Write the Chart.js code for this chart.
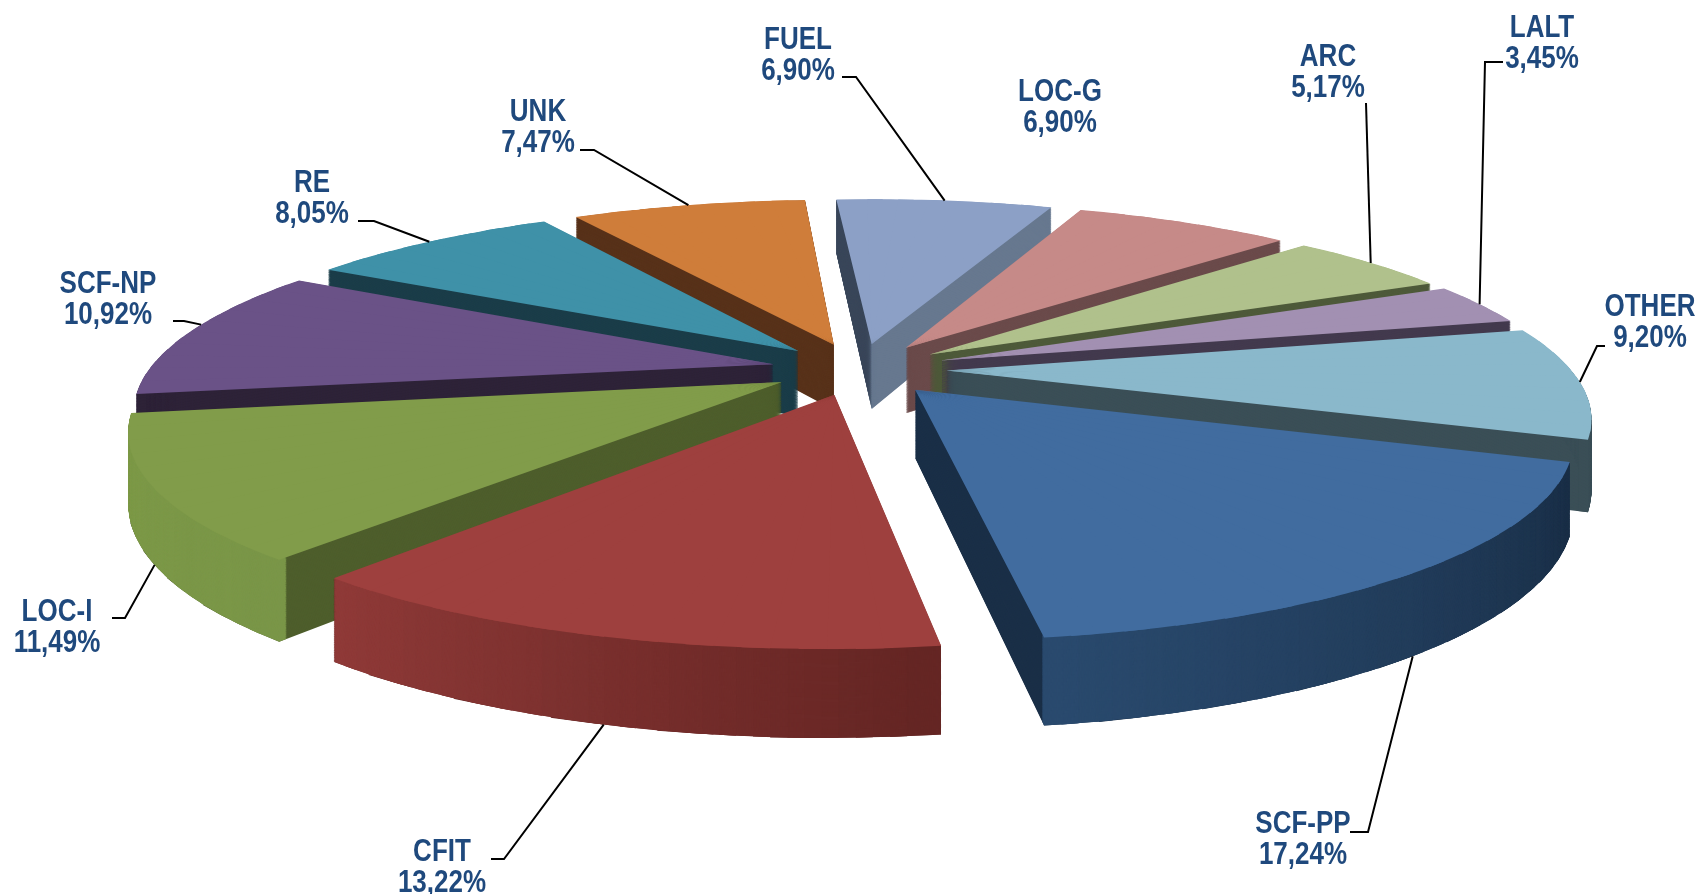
<!DOCTYPE html>
<html>
<head>
<meta charset="utf-8">
<title>Accident categories</title>
<script src="https://cdn.jsdelivr.net/npm/chart.js@4/dist/chart.umd.js"></script>
<style>
    html, body { margin: 0; padding: 0; background: #ffffff; }
    canvas { display: block; }
</style>
</head>
<body>
<canvas id="pieChart" width="1700" height="894"></canvas>
<script>
// Данные
const categories = ['FUEL', 'LOC-G', 'ARC', 'LALT', 'OTHER', 'SCF-PP', 'CFIT', 'LOC-I', 'SCF-NP', 'RE', 'UNK'];
const shares = [6.90, 6.90, 5.17, 3.45, 9.20, 17.24, 13.22, 11.49, 10.92, 8.05, 7.47];

// Цвета: верх, срез, второй срез, обод (начало и конец)
const topColors = ['#8ca0c6', '#c68a88', '#b0c18c', '#a290b2', '#8ab8cb', '#416c9f', '#9e403e', '#819c4a', '#6a5287', '#3f91a8', '#cf7d3a'];
const wallColors = ['#67788f', '#6b4b4b', '#4e5a3a', '#433a4e', '#3b4f57', '#1a2f47', '#652624', '#4e5e2c', '#2e2338', '#1b3d49', '#58321a'];
const startWallColors = ['#3a475a', '#6b4b4b', '#4e5a3a', '#433a4e', '#3b4f57', '#1a2f47', '#652624', '#4e5e2c', '#2e2338', '#1b3d49', '#58321a'];
const rimStart = [[103, 120, 143], [107, 75, 75], [78, 90, 58], [67, 58, 78], [59, 79, 87], [26, 47, 71], [101, 38, 36], [122, 150, 72], [46, 35, 56], [27, 61, 73], [88, 50, 26]];
const rimEnd = [[103, 120, 143], [107, 75, 75], [78, 90, 58], [67, 58, 78], [59, 79, 87], [42, 74, 110], [143, 58, 56], [126, 154, 72], [46, 35, 56], [27, 61, 73], [88, 50, 26]];

// Подписи: центр текста, излом выноски и точка крепления вдоль сектора
const labelCenters = [[798, 41], [1060, 93], [1328, 58], [1542, 29], [1650, 308], [1303, 825], [442, 853], [57, 613], [108, 285], [312, 184], [538, 113]];
const leaderElbows = [
    [[842, 77], [856, 77]],
    null,
    [[1366, 103]],
    [[1503, 62], [1485, 62]],
    [[1605, 346], [1597, 346]],
    [[1350, 832], [1368, 832]],
    [[491, 859], [504, 859]],
    [[112, 618], [125, 618]],
    [[173, 321], [184, 321]],
    [[358, 221], [374, 221]],
    [[580, 150], [594, 150]]
];
const leaderAt = [0.5, 0.5, 0.5, 0.5, 0.5, 0.5, 0.5, 0.5, 0.56, 0.5, 0.5];

// Параметры вида
const VIEW = { cx: 859, cy: 369, rx: 624, rz: 186, persp: 0.217, explode: 0.14, depth: 67 };
const ROTATION = -3.8;
const LINE_GAP = 31;
const TEXT_STRETCH = 1.18;

function midAngle(arc) {
    return (arc.startAngle + arc.endAngle) / 2;
}

// Перспективная проекция точки круга на экран
function project(angle, frac, mid, h) {
    const X = frac * Math.cos(angle) + VIEW.explode * Math.cos(mid);
    const Z = -(frac * Math.sin(angle) + VIEW.explode * Math.sin(mid));
    const w = 1 / (1 + VIEW.persp * Z);
    return {
        x: VIEW.cx + VIEW.rx * X * w,
        y: VIEW.cy - VIEW.rz * Z * w + h * VIEW.depth * w,
        z: Z
    };
}

function arcOptions(color) {
    return {
        backgroundColor: color, borderColor: 'transparent', borderWidth: 0, borderAlign: 'center',
        borderJoinStyle: 'round', borderRadius: 0, offset: 0, spacing: 0, circular: true, selfJoin: false
    };
}

// Рисует часть сектора штатным ArcElement через аффинное преобразование
function drawPiece(ctx, arc, mid, a0, a1, innerFrac, color, h, overlap) {
    const r = arc.outerRadius;
    const s0 = project(a0, 0, mid, h);
    const s1 = project(a0, 1, mid, h);
    const s2 = project(a1, 1, mid, h);
    const ux1 = r * Math.cos(a0), uy1 = r * Math.sin(a0);
    const ux2 = r * Math.cos(a1), uy2 = r * Math.sin(a1);
    const vx1 = s1.x - s0.x, vy1 = s1.y - s0.y;
    const vx2 = s2.x - s0.x, vy2 = s2.y - s0.y;
    const det = ux1 * uy2 - ux2 * uy1;
    const a = (vx1 * uy2 - vx2 * uy1) / det;
    const c = (vx2 * ux1 - vx1 * ux2) / det;
    const b = (vy1 * uy2 - vy2 * uy1) / det;
    const d = (vy2 * ux1 - vy1 * ux2) / det;

    arc.startAngle = a0;
    arc.endAngle = a1 + overlap;
    arc.circumference = a1 + overlap - a0;
    arc.innerRadius = r * innerFrac;
    arc.options = arcOptions(color);

    ctx.save();
    ctx.transform(a, b, c, d, s0.x - a * arc.x - c * arc.y, s0.y - b * arc.x - d * arc.y);
    arc.draw(ctx);
    ctx.restore();
}

function drawRange(ctx, arc, mid, a0, a1, stepDeg, innerFrac, colorAt, h) {
    const n = Math.max(1, Math.ceil((a1 - a0) / (stepDeg * Math.PI / 180)));
    const overlap = (a1 - a0) / n * 0.5;
    for (let j = 0; j < n; j++) {
        const sa = a0 + (a1 - a0) * j / n;
        const sb = a0 + (a1 - a0) * (j + 1) / n;
        const color = colorAt(j / Math.max(1, n - 1), (sa + sb) / 2);
        if (color) {
            drawPiece(ctx, arc, mid, sa, sb, innerFrac, color, h, j < n - 1 ? overlap : 0);
        }
    }
}

// Обод виден только на передней половине круга
function rimColor(i, t, angle) {
    if (Math.sin(angle) < -0.05) return null;
    const mix = rimStart[i].map((v, k) => Math.round(v + (rimEnd[i][k] - v) * t));
    return `rgb(${mix[0]}, ${mix[1]}, ${mix[2]})`;
}

const pie3d = {
    id: 'pie3d',
    beforeDatasetsDraw(chart) {
        const ctx = chart.ctx;
        const arcs = chart.getDatasetMeta(0).data;
        const order = arcs.map((arc, i) => i).sort((p, q) =>
            project(midAngle(arcs[q]), 0.6, midAngle(arcs[q]), 0).z - project(midAngle(arcs[p]), 0.6, midAngle(arcs[p]), 0).z);
        const layers = Math.ceil(VIEW.depth * 1.4);

        order.forEach(i => {
            const arc = arcs[i];
            const saved = { s: arc.startAngle, e: arc.endAngle, c: arc.circumference, n: arc.innerRadius, o: arc.options };
            const a0 = saved.s, a1 = saved.e, mid = midAngle(arc);

            for (let l = layers; l > 0; l--) {
                drawRange(ctx, arc, mid, a0, a1, 8, 0, () => wallColors[i], l / layers);
            }
            if (startWallColors[i] !== wallColors[i]) {
                for (let l = layers; l > 0; l--) {
                    drawPiece(ctx, arc, mid, a0, a0 + 0.006, 0, startWallColors[i], l / layers, 0);
                }
            }
            for (let l = layers; l > 0; l--) {
                drawRange(ctx, arc, mid, a0, a1, 2.5, 0.985, (t, angle) => rimColor(i, t, angle), l / layers);
            }
            drawRange(ctx, arc, mid, a0, a1, 4, 0, () => topColors[i], 0);

            arc.startAngle = saved.s;
            arc.endAngle = saved.e;
            arc.circumference = saved.c;
            arc.innerRadius = saved.n;
            arc.options = saved.o;
        });
        return false;
    },
    afterDraw(chart) {
        const ctx = chart.ctx;
        const arcs = chart.getDatasetMeta(0).data;

        // Выноски
        ctx.save();
        ctx.strokeStyle = '#000000';
        ctx.lineWidth = 2;
        arcs.forEach((arc, i) => {
            if (!leaderElbows[i]) return;
            const mid = midAngle(arc);
            const at = arc.startAngle + (arc.endAngle - arc.startAngle) * leaderAt[i];
            const front = project(at, 1, mid, 0).z < -0.1;
            const end = project(at, 1, mid, front ? 1 : 0);
            ctx.beginPath();
            leaderElbows[i].forEach((p, j) => j ? ctx.lineTo(p[0], p[1]) : ctx.moveTo(p[0], p[1]));
            ctx.lineTo(end.x, end.y);
            ctx.stroke();
        });
        ctx.restore();

        // Подписи
        ctx.save();
        ctx.fillStyle = '#1f497d';
        ctx.textAlign = 'center';
        ctx.textBaseline = 'middle';
        ctx.font = 'bold 26px "Liberation Sans", Arial, sans-serif';
        categories.forEach((name, i) => {
            const pos = labelCenters[i];
            const value = shares[i].toFixed(2).replace('.', ',') + '%';
            [name, value].forEach((text, j) => {
                ctx.save();
                ctx.translate(pos[0], pos[1] + j * LINE_GAP);
                ctx.scale(1, TEXT_STRETCH);
                ctx.fillText(text, 0, 0);
                ctx.restore();
            });
        });
        ctx.restore();
    }
};

new Chart(document.getElementById('pieChart').getContext('2d'), {
    type: 'pie',
    data: {
        labels: categories,
        datasets: [{ data: shares, backgroundColor: topColors, borderWidth: 0 }]
    },
    options: {
        responsive: false,
        animation: false,
        rotation: ROTATION,
        layout: { padding: 0 },
        plugins: { legend: { display: false }, tooltip: { enabled: false } }
    },
    plugins: [pie3d]
});
</script>
</body>
</html>
